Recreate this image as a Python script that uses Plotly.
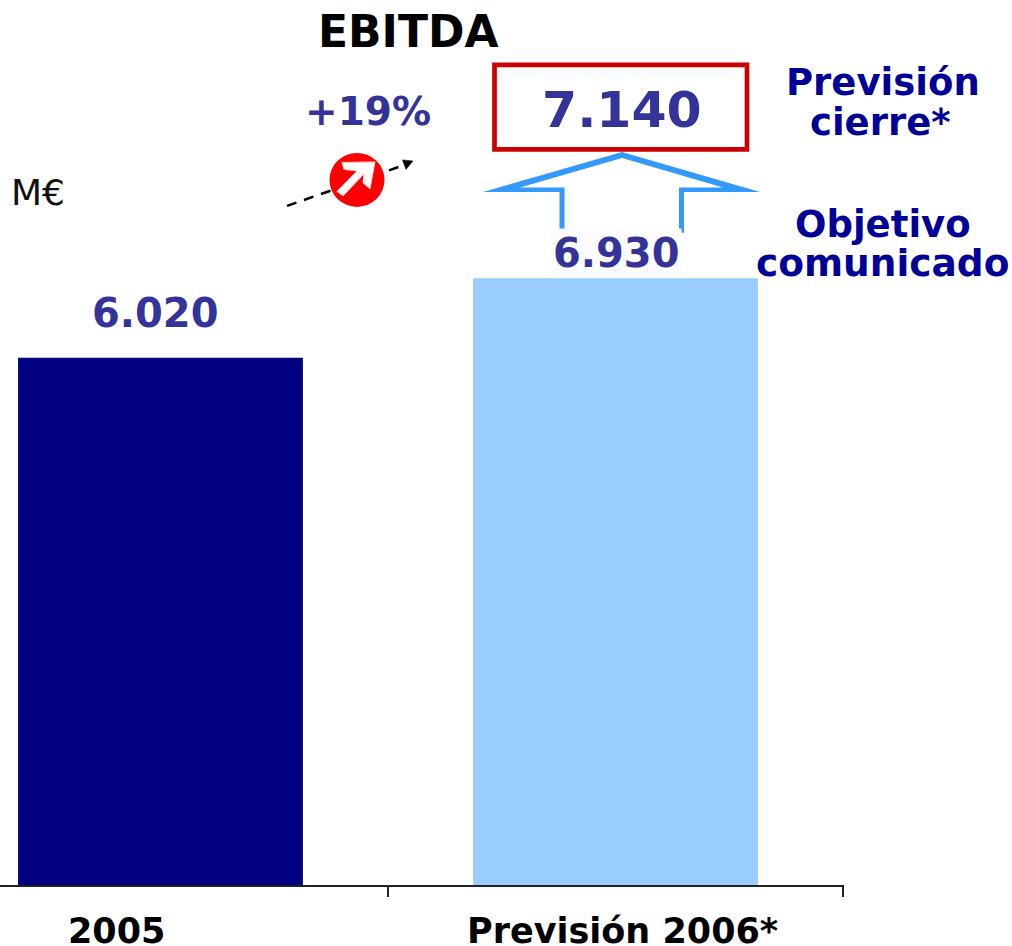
import plotly.graph_objects as go

categories = ["2005", "Previsión 2006*"]
values = [6020, 6930]
value_labels = ["6.020", "6.930"]
bar_colors = ["#000080", "#99CCFF"]
forecast_label = "7.140"
growth_label = "+19%"
title_text = "EBITDA"
unit_text = "M€"

W, H = 1012, 946
PLOT_W, PLOT_H = 844, 885.5
FONT = "DejaVu Sans"
NUM = "#333399"
NAVY = "#000099"
BLUE = "#3399FF"
RED = "#CC0000"

def px(x):
    return x / PLOT_W

def py(y):
    return 1 - y / PLOT_H

def path(points, close=False):
    s = "M " + " L ".join(f"{px(x):.5f},{py(y):.5f}" for x, y in points)
    return s + (" Z" if close else "")

fig = go.Figure(go.Bar(
    x=categories, y=values, marker=dict(color=bar_colors, line_width=0),
    width=0.626, hoverinfo="skip"))

block_arrow = [
    (559.5, 233), (559.5, 192), (483, 192), (622, 152), (760, 192), (684, 192), (684, 233),
    (679, 233), (679, 187.5), (723, 187.5), (622, 158), (520, 187.5), (564.5, 187.5), (564.5, 233),
]
icon_arrow = [
    (342, 162.5), (375, 162), (370, 189), (363, 183), (364, 174),
    (343, 196), (337, 191.5), (357, 171), (344, 169.5),
]

shapes = [
    dict(type="rect", xref="paper", yref="paper", x0=px(494.5), x1=px(747), y0=py(149.5), y1=py(65),
         line=dict(color=RED, width=4.7), fillcolor="rgba(0,0,0,0)"),
    dict(type="path", xref="paper", yref="paper", path=path(block_arrow, True),
         fillcolor=BLUE, line=dict(width=0)),
    dict(type="line", xref="paper", yref="paper", x0=px(287), y0=py(206), x1=px(406), y1=py(164.5),
         line=dict(color="black", width=2.5, dash="10px,8px")),
    dict(type="path", xref="paper", yref="paper",
         path=path([(413, 161), (402.5, 160), (406, 169.5)], True),
         fillcolor="black", line=dict(color="black", width=0.5)),
    dict(type="circle", xref="paper", yref="paper", x0=px(329.5), x1=px(384.5), y0=py(207), y1=py(153),
         fillcolor="#FF0000", line=dict(color="#FF0000", width=0)),
    dict(type="path", xref="paper", yref="paper", path=path(icon_arrow, True),
         fillcolor="#FFFFFF", line=dict(color="#FFD0D0", width=1)),
]

def note(x, y, text, size, color, **kw):
    return dict(xref="paper", yref="paper", x=px(x), y=py(y), text=text, showarrow=False,
                xanchor=kw.pop("xanchor", "center"), yanchor="middle",
                font=dict(family=FONT, size=size, color=color, weight=kw.pop("weight", "bold")), **kw)

annotations = [
    note(408, 32, title_text, 44, "black"),
    note(367.5, 112, growth_label, 39, NUM),
    note(38, 193, unit_text, 36, "#111111", weight="normal"),
    note(621.5, 110, forecast_label, 50.5, NUM),
    note(155.5, 313, value_labels[0], 40, NUM),
    note(616.5, 253, value_labels[1], 40, NUM, bgcolor="#FBFCFF"),
    note(883, 83, "Previsión", 37, NAVY),
    note(880.5, 123, "cierre*", 37, NAVY),
    note(883, 225, "Objetivo", 37, NAVY),
    note(882.5, 263, "comunicado", 37.5, NAVY),
    note(116.5, 932, categories[0], 35, "black"),
    note(622.5, 932, categories[1], 35, "black"),
]

fig.update_layout(
    width=W, height=H, autosize=False,
    margin=dict(l=0, r=W - PLOT_W, t=0, b=H - PLOT_H),
    paper_bgcolor="white", plot_bgcolor="white",
    showlegend=False, shapes=shapes, annotations=annotations,
    xaxis=dict(type="category", range=[-0.3527, 1.5022], tickson="boundaries", ticks="outside",
               ticklen=10, tickwidth=1.5, tickcolor="#222222", showgrid=False, showline=True,
               linecolor="#222222", linewidth=1.5, showticklabels=False),
    yaxis=dict(range=[0, PLOT_H / 0.08762], visible=False),
)
fig.write_html("out.html", config={"displayModeBar": False},
               post_script="document.body.style.margin='0';document.body.style.overflow='hidden';")
